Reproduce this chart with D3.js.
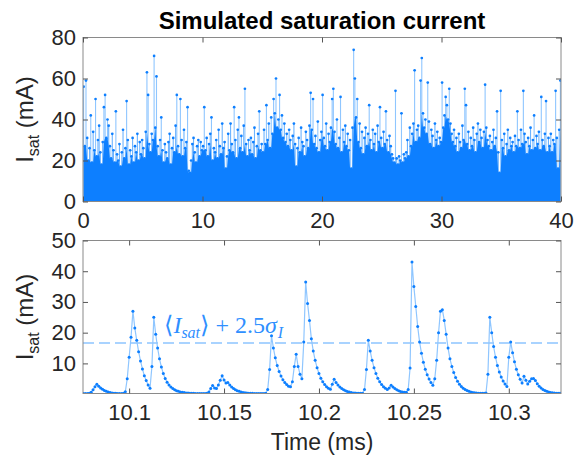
<!DOCTYPE html>
<html>
<head>
<meta charset="utf-8">
<script src="https://cdn.jsdelivr.net/npm/d3@7"></script>
<style>body{margin:0;background:#fff}svg{display:block}</style>
</head>
<body>
<div id="chart"></div>
<script>
// ---- data ----
const topTicksX = [0, 10, 20, 30, 40];
const topTicksY = [0, 20, 40, 60, 80];
const zoomTicksX = [10.1, 10.15, 10.2, 10.25, 10.3];
const zoomTicksY = [10, 20, 30, 40, 50];

// top panel: largest value in each 0.1 ms bin (mA)
const topStep = 0.1;
const topPeaks = [
  56,27,59,31,20,26,42,19,34,25,  50,22,30,37,24,18,29,46,52,31,
  40,37,27,21,33,25,19,44,23,20,  28,17,24,35,21,26,49,30,18,25,
  22,31,19,27,24,33,20,29,23,30,  26,21,34,63,52,28,24,33,30,71,
  36,61,27,22,30,41,25,19,28,24,  21,29,33,18,26,31,24,37,52,27,
  23,50,30,22,35,26,29,46,15,14,  20,28,31,24,19,27,30,22,29,25,
  27,46,25,31,22,28,33,41,20,26,  24,30,21,35,27,23,38,26,29,16,
  22,33,25,38,28,24,46,30,21,35,  41,26,32,24,37,55,28,22,30,25,
  31,23,29,36,21,27,33,44,25,28,  24,35,28,47,30,38,26,41,33,50,
  43,60,36,40,52,35,42,31,38,29,  33,27,35,30,25,32,38,28,17,26,
  31,24,36,29,27,22,34,30,26,37,  53,35,50,28,32,26,39,24,30,34,
  52,31,27,38,25,33,29,36,50,55,  34,28,40,26,31,51,24,35,29,37,
  27,33,25,30,16,36,74,60,41,50,  29,38,26,34,23,31,36,27,33,47,
  30,25,35,28,33,24,37,29,46,31,  26,34,28,44,30,24,32,27,23,21,
  19,54,21,18,22,20,43,19,23,21,  24,30,22,36,27,33,38,64,29,35,
  37,31,59,70,43,36,40,33,58,39,  28,35,32,26,38,30,34,27,31,29,
  58,36,42,51,47,40,55,38,33,29,  35,27,31,24,33,29,26,37,30,55,
  47,28,34,25,31,27,36,30,24,33,  38,29,35,31,26,34,57,36,30,27,
  32,25,29,35,27,31,44,24,14,54,  30,26,33,22,28,35,25,31,27,29,
  24,32,27,44,30,26,35,28,54,33,  29,23,31,27,36,25,30,42,26,32,
  28,34,25,51,30,27,33,49,24,31,  27,33,24,30,28,54,31,16,35,59
];

// bottom panel: samples every 0.001 ms from 10.076 ms (mA)
const zoomStart = 10.076, zoomStep = 0.001;
const zoomValues = [
  0.2,0.2,0.2,0.3,0.6,1.4,2.4,3.2,2.6,2.0,
  1.6,1.2,0.9,0.7,0.5,0.4,0.3,0.3,0.2,0.2,
  0.2,0.3,0.8,5.0,12.0,18.5,27.0,21.5,17.5,13.8,
  10.8,8.2,6.0,4.4,3.0,1.9,9.0,25.0,19.5,15.0,
  11.5,8.8,6.7,5.1,3.9,3.0,2.3,1.8,1.4,1.1,
  0.9,0.7,0.6,0.5,0.4,0.35,0.3,0.25,0.25,0.2,
  0.2,0.2,0.2,0.2,0.2,0.3,0.7,1.8,2.8,2.0,
  1.8,3.0,4.5,6.0,4.6,3.6,3.8,3.0,2.3,1.8,
  1.4,1.1,0.9,0.7,0.55,0.45,0.38,0.3,0.25,0.25,
  0.2,0.2,0.2,0.2,0.2,0.2,0.3,1.5,8.0,19.0,
  15.0,11.8,9.3,7.4,5.9,4.7,3.8,3.1,2.6,2.4,
  4.0,9.0,13.0,9.0,6.5,5.0,17.0,36.5,29.5,24.0,
  18.0,14.0,11.0,8.6,6.7,5.2,4.0,3.1,2.4,1.9,
  1.6,3.2,4.8,3.8,3.0,2.3,1.8,1.4,1.1,0.85,
  0.65,0.5,0.4,0.35,0.3,0.25,0.25,0.3,1.5,8.0,
  17.5,14.0,11.0,8.6,6.7,5.2,4.0,3.1,2.4,1.9,
  1.5,2.0,2.9,2.3,1.8,1.4,1.1,0.85,0.7,0.6,
  0.6,1.5,8.5,43.0,35.0,28.5,22.0,17.0,13.3,10.4,
  8.1,6.3,4.9,3.8,2.9,5.0,11.0,20.0,27.0,27.5,
  24.0,19.5,15.0,11.5,9.0,7.0,5.4,4.2,3.2,2.5,
  1.9,1.5,1.15,0.9,0.7,0.55,0.45,0.38,0.32,0.3,
  0.3,0.25,0.4,6.5,25.0,20.0,15.5,12.0,9.3,7.2,
  5.6,4.3,3.3,2.5,12.0,17.0,13.5,10.5,8.1,6.3,
  4.8,3.6,5.8,4.5,3.3,4.2,5.0,5.1,4.4,3.4,
  2.6,2.0,1.5,1.15,0.9,0.7,0.55,0.45,0.38,0.32,
  0.28,0.25
];
const threshold = 16.6;

// ---- layout ----
const W = 574, H = 456;
const L = 83, R = 561;
const P1 = { t: 37.5, b: 201.5 }, P2 = { t: 240.5, b: 393.5 };
const font = '"Liberation Sans", Arial, Helvetica, sans-serif';
const ink = '#262626', boxC = '#8a8a8a';
const dotC = '#0d7fff', lineC = '#8fc6ff', stemC = '#6cb3ff';

const svg = d3.select('#chart').append('svg').attr('width', W).attr('height', H)
  .style('font-family', font);

const x1 = d3.scaleLinear().domain([0, 40]).range([L, R]);
const y1 = d3.scaleLinear().domain([0, 80]).range([P1.b, P1.t]);
const x2 = d3.scaleLinear().domain([10.0757, 10.3275]).range([L, R]);
const y2 = d3.scaleLinear().domain([0.2, 50]).range([P2.b, P2.t]);

const defs = svg.append('defs');
[['clipTop', P1], ['clipBot', P2]].forEach(([id, p]) => {
  defs.append('clipPath').attr('id', id).append('rect')
    .attr('x', L).attr('y', p.t - 3).attr('width', R - L).attr('height', p.b - p.t + 3);
});

function frame(x, y, p, xt, yt, fmt) {
  const g = svg.append('g');
  g.append('rect').attr('x', L).attr('y', p.t).attr('width', R - L).attr('height', p.b - p.t)
    .attr('fill', 'none').attr('stroke', boxC).attr('stroke-width', 1);
  const ax = [
    g.append('g').attr('transform', `translate(0,${p.b})`)
      .call(d3.axisBottom(x).tickValues(xt).tickSizeInner(-5).tickSizeOuter(0).tickPadding(11).tickFormat(fmt)),
    g.append('g').attr('transform', `translate(0,${p.t})`)
      .call(d3.axisTop(x).tickValues(xt).tickSizeInner(-5).tickSizeOuter(0).tickFormat('')),
    g.append('g').attr('transform', `translate(${L},0)`)
      .call(d3.axisLeft(y).tickValues(yt).tickSizeInner(-5).tickSizeOuter(0).tickPadding(7)),
    g.append('g').attr('transform', `translate(${R},0)`)
      .call(d3.axisRight(y).tickValues(yt).tickSizeInner(-5).tickSizeOuter(0).tickFormat(''))
  ];
  ax.forEach(a => {
    a.select('.domain').remove();
    a.selectAll('line').attr('stroke', '#555');
    a.selectAll('text').attr('fill', ink).style('font-size', '22px').style('font-family', font);
  });
}

// ---- top panel ----
const topT = topPeaks.map((v, i) => (i + 0.5) * topStep);
// dense core where neighbouring pulses overlap
const body = topPeaks.map((v, i) => d3.min(topPeaks.slice(Math.max(0, i - 1), i + 2)));
const gTop = svg.append('g').attr('clip-path', 'url(#clipTop)');
gTop.selectAll('line.stem').data(topPeaks).join('line').attr('class', 'stem')
  .attr('x1', (d, i) => x1(topT[i])).attr('x2', (d, i) => x1(topT[i]))
  .attr('y1', y1(0)).attr('y2', d => y1(d))
  .attr('stroke', d => d > 38 ? lineC : stemC).attr('stroke-width', 1.1);
gTop.append('path').datum(body)
  .attr('d', d3.area().x((d, i) => x1(topT[i])).y0(y1(0)).y1(d => y1(d)))
  .attr('fill', dotC);
gTop.selectAll('circle').data(topPeaks).join('circle')
  .attr('cx', (d, i) => x1(topT[i])).attr('cy', d => y1(d)).attr('r', 1.35).attr('fill', dotC);
frame(x1, y1, P1, topTicksX, topTicksY, d3.format('d'));

// ---- bottom panel ----
const zoomT = zoomValues.map((v, i) => zoomStart + i * zoomStep);
const gBot = svg.append('g').attr('clip-path', 'url(#clipBot)');
gBot.append('line').attr('x1', L).attr('x2', R).attr('y1', y2(threshold)).attr('y2', y2(threshold))
  .attr('stroke', '#a9d3ff').attr('stroke-width', 2).attr('stroke-dasharray', '11,5');
gBot.append('path').datum(zoomValues)
  .attr('d', d3.line().x((d, i) => x2(zoomT[i])).y(d => y2(d)))
  .attr('fill', 'none').attr('stroke', lineC).attr('stroke-width', 1.2);
gBot.selectAll('circle').data(zoomValues).join('circle')
  .attr('cx', (d, i) => x2(zoomT[i])).attr('cy', d => y2(d)).attr('r', 1.5).attr('fill', dotC);
frame(x2, y2, P2, zoomTicksX, zoomTicksY, d => String(d));

// threshold label
const ann = svg.append('text').attr('x', 164).attr('y', 333).attr('fill', '#2f8fff')
  .style('font-family', '"Liberation Serif", "DejaVu Serif", serif').style('font-size', '24px');
ann.append('tspan').text('\u27E8');
ann.append('tspan').style('font-style', 'italic').text('I');
ann.append('tspan').style('font-style', 'italic').style('font-size', '16px').attr('dy', 5).text('sat');
ann.append('tspan').attr('dy', -5).text('\u27E9 + 2.5');
ann.append('tspan').style('font-style', 'italic').text('\u03C3');
ann.append('tspan').style('font-style', 'italic').style('font-size', '16px').attr('dy', 5).attr('dx', 1).text('I');

// ---- titles and labels ----
svg.append('text').attr('x', (L + R) / 2).attr('y', 29).attr('text-anchor', 'middle')
  .attr('fill', '#000').style('font-size', '24px').style('font-weight', 'bold')
  .text('Simulated saturation current');
svg.append('text').attr('x', (L + R) / 2).attr('y', 450).attr('text-anchor', 'middle')
  .attr('fill', ink).style('font-size', '23px').text('Time (ms)');

[P1, P2].forEach(p => {
  const t = svg.append('text').attr('transform', `translate(33,${(p.t + p.b) / 2}) rotate(-90)`)
    .attr('text-anchor', 'middle').attr('fill', ink).style('font-size', '24px');
  t.append('tspan').text('I');
  t.append('tspan').style('font-size', '16px').attr('dy', 6).text('sat');
  t.append('tspan').attr('dy', -6).text(' (mA)');
});
</script>
</body>
</html>
